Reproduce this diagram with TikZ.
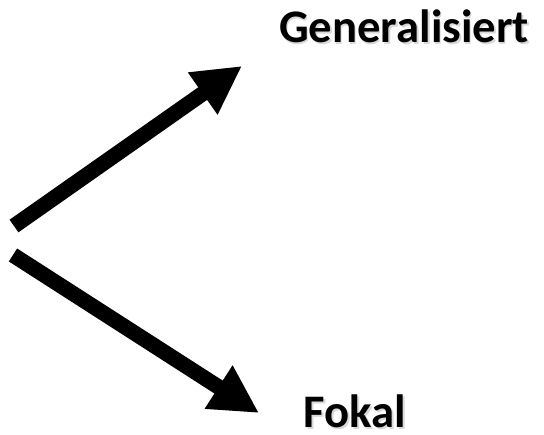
\documentclass[tikz,border=0pt]{standalone}
\usepackage{fontspec}
\setmainfont{Carlito}
\usetikzlibrary{arrows.meta}
\tikzset{
  bigarrow/.style={line width=11.5pt, -{Triangle[length=36pt,width=36pt]}, black},
  arrowshadow/.style={line width=11.5pt, -{Triangle[length=36pt,width=36pt]}, black, opacity=0.18},
  label/.style={font=\fontsize{35}{40}\selectfont\bfseries, inner sep=0pt, anchor=base},
}
\begin{document}
\begin{tikzpicture}[x=0.75pt,y=-0.75pt]
  \useasboundingbox (0,0) rectangle (544,435);
  % arrow end points
  \coordinate (uptail) at (14,226);
  \coordinate (uptip) at (242,66);
  \coordinate (lotail) at (13,255);
  \coordinate (lotip) at (259,413);
  % soft shadows under the arrows
  \draw[arrowshadow, shift={(2.5,3)}] (uptail) -- (uptip);
  \draw[arrowshadow, shift={(2.5,3)}] (lotail) -- (lotip);
  % the two arrows
  \draw[bigarrow] (uptail) -- (uptip);
  \draw[bigarrow] (lotail) -- (lotip);
  % labels
  \node[label, text=black!25, opacity=0.6] at (405.5,44.5) {Generalisiert};
  \node[label] (gen) at (404,43) {Generalisiert};
  \node[label, text=black!25, opacity=0.6] at (356.5,429.5) {Fokal};
  \node[label] (fok) at (355,428) {Fokal};
\end{tikzpicture}
\end{document}
